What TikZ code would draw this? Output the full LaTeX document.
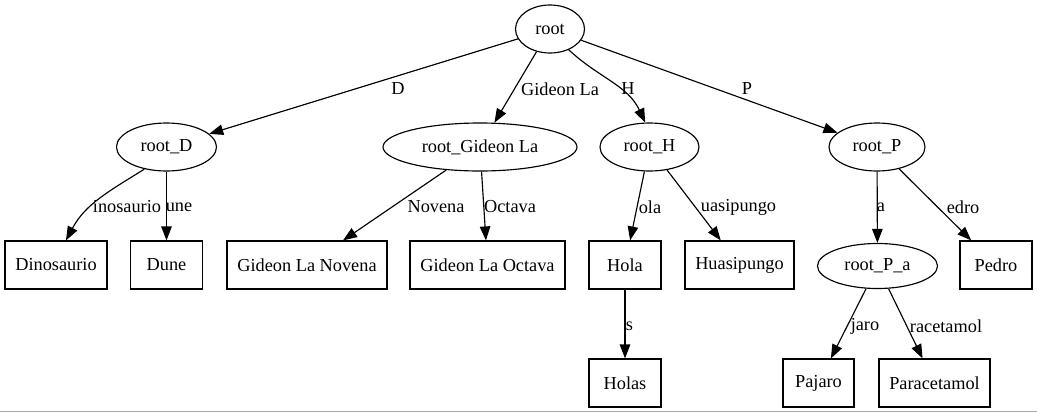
\documentclass[tikz,border=0pt]{standalone}
\usepackage{fontspec}
\setmainfont{Liberation Serif}
\usetikzlibrary{shapes.geometric,arrows.meta}
\begin{document}
\begin{tikzpicture}[x=1pt,y=-1pt,
  every node/.style={font=\fontsize{18.3}{20}\selectfont},
  ell/.style={draw,ellipse,line width=1.15pt,inner sep=0pt},
  box/.style={draw,rectangle,line width=1.15pt,inner sep=0pt,minimum height=48pt},
  edge/.style={line width=1.15pt,-{Triangle[length=14pt,width=10.5pt]}},
  lbl/.style={inner sep=0pt}]
\useasboundingbox (0,0) rectangle (1037,413);
\draw[color={rgb,255:red,168;green,168;blue,168},line width=1.2pt] (0,411.5) -- (1037,411.5);
% ellipse nodes
\node[ell,minimum width=69pt,minimum height=48pt] (root) at (550,29) {root};
\node[ell,minimum width=100pt,minimum height=48pt] (rD) at (166.5,147) {root\_D};
\node[ell,minimum width=194pt,minimum height=48pt] (rG) at (480,147) {root\_Gideon La};
\node[ell,minimum width=99pt,minimum height=48pt] (rH) at (649.5,147) {root\_H};
\node[ell,minimum width=96pt,minimum height=48pt] (rP) at (877,147) {root\_P};
\node[ell,minimum width=120pt,minimum height=45pt] (rPa) at (877.5,266) {root\_P\_a};
% boxes
\node[box,minimum width=102pt] (dino) at (56,265) {Dinosaurio};
\node[box,minimum width=72pt] (dune) at (166.5,265) {Dune};
\node[box,minimum width=160pt] (nov) at (307,265) {Gideon La Novena};
\node[box,minimum width=155pt] (oct) at (487.5,265) {Gideon La Octava};
\node[box,minimum width=72pt] (hola) at (625,265) {Hola};
\node[box,minimum width=109pt] (huasi) at (739.5,265) {Huasipungo};
\node[box,minimum width=72pt] (pedro) at (996,265) {Pedro};
\node[box,minimum width=72pt] (holas) at (625,383) {Holas};
\node[box,minimum width=71pt] (pajaro) at (818.5,383) {Pajaro};
\node[box,minimum width=111pt] (parac) at (934.5,383) {Paracetamol};
% edges
\draw[edge] (root) -- (rD);
\draw[edge] (root) -- (rG);
\draw[edge] (root.-48) to[out=-43,in=115] (rH.100);
\draw[edge] (root) -- (rP);
\draw[edge] (rD.-135) to[out=212,in=62] (dino.north -| 66,0);
\draw[edge] (rD) -- (dune);
\draw[edge] (rG) -- (nov);
\draw[edge] (rG) -- (oct);
\draw[edge] (rH) -- (hola);
\draw[edge] (rH) -- (huasi);
\draw[edge] (rP) -- (rPa);
\draw[edge] (rP) -- (pedro);
\draw[edge] (hola) -- (holas);
\draw[edge] (rPa) -- (pajaro);
\draw[edge] (rPa) -- (parac);
% labels
\node[lbl] (lD) at (398,89) {D};
\node[lbl] (lG) at (560,89) {Gideon La};
\node[lbl] (lH) at (628,89) {H};
\node[lbl] (lP) at (747,89) {P};
\node[lbl] (lino) at (127,207) {inosaurio};
\node[lbl] (lune) at (179,207) {une};
\node[lbl] (lnov) at (436,207) {Novena};
\node[lbl] (loct) at (510,207) {Octava};
\node[lbl] (lola) at (650,207) {ola};
\node[lbl] (luas) at (738.5,207) {uasipungo};
\node[lbl] (la) at (881,207) {a};
\node[lbl] (ledro) at (963,207) {edro};
\node[lbl] (ls) at (629.5,326) {s};
\node[lbl] (ljaro) at (865,326) {jaro};
\node[lbl] (lrac) at (946,326) {racetamol};
\end{tikzpicture}
\end{document}
